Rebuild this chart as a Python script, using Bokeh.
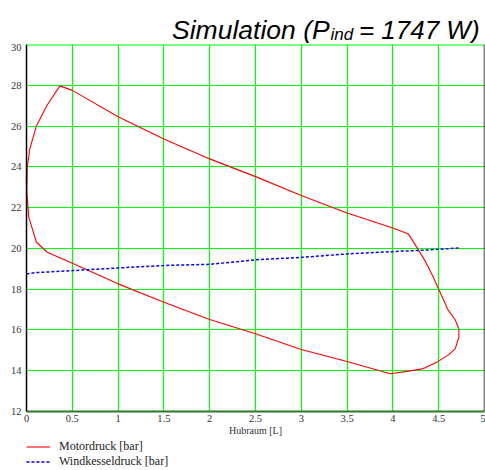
from bokeh.plotting import figure
from bokeh.layouts import column
from bokeh.models import (Range1d, FixedTicker, Legend, LegendItem, Span)
from bokeh.core.properties import value
from bokeh.embed import file_html
from bokeh.resources import INLINE

# Motordruck loop (Hubraum [L], Druck [bar])
motor_x = [0.364, 0.5, 1.0, 1.5, 2.0, 2.5, 3.0, 3.5, 4.0, 4.17,
           4.35, 4.44, 4.6, 4.68, 4.72, 4.72, 4.68, 4.61, 4.48, 4.32, 4.17, 3.97,
           3.5, 3.0, 2.5, 2.0, 1.5, 1.0, 0.5, 0.37, 0.226, 0.109,
           0.025, 0.003, 0.008, 0.036, 0.109, 0.226, 0.364]
motor_y = [27.97, 27.75, 26.46, 25.37, 24.39, 23.52, 22.59, 21.74, 21.0, 20.71,
           19.4, 18.6, 17.0, 16.5, 16.05, 15.64, 15.07, 14.79, 14.42, 14.09, 13.98, 13.85,
           14.45, 15.04, 15.81, 16.51, 17.36, 18.26, 19.27, 19.53, 19.81, 20.30,
           21.52, 22.83, 23.98, 24.88, 26.02, 27.03, 27.97]

# Windkesseldruck
wind_x = [0.0, 0.1, 0.5, 1.0, 1.5, 2.0, 2.5, 3.0, 3.5, 4.0, 4.41, 4.72]
wind_y = [18.75, 18.81, 18.91, 19.04, 19.16, 19.22, 19.44, 19.56, 19.73, 19.84, 19.93, 20.02]

x_ticks = [0, 0.5, 1, 1.5, 2, 2.5, 3, 3.5, 4, 4.5, 5]
x_tick_labels = ["0", "0.5", "1", "1.5", "2", "2.5", "3", "3.5", "4", "4.5", "5"]
y_ticks = [12, 14, 16, 18, 20, 22, 24, 26, 28, 30]
y_tick_labels = [str(v) for v in y_ticks]

title_parts = ["Simulation (P", "ind", "= 1747 W)"]
x_label = "Hubraum [L]"
legend_labels = ["Motordruck [bar]", "Windkesseldruck [bar]"]

SERIF = "Liberation Serif"
SANS = "Liberation Sans"
GRID = "#00ff00"
RED = "#ff0000"
BLUE = "#0000ff"
W = 485

# ---- title strip (pixel coordinates) ----
t = figure(width=W, height=43, output_backend="svg", toolbar_location=None,
           x_range=Range1d(0, W), y_range=Range1d(43, 0),
           x_axis_type=None, y_axis_type=None, min_border=0)
t.outline_line_color = None
t.grid.visible = False
tstyle = dict(text_font=value(SANS), text_font_style="italic",
              text_baseline="alphabetic", text_color="black")
t.text(x=[321], y=[29], text=[title_parts[0]], text_font_size="26.5px",
       text_align="right", **tstyle)
t.text(x=[322], y=[33.5], text=[title_parts[1]], text_font_size="17px",
       text_align="left", **tstyle)
t.text(x=[352], y=[29], text=[title_parts[2]], text_font_size="26px",
       text_align="left", **tstyle)

# ---- main plot ----
p = figure(width=W, height=395, output_backend="svg", toolbar_location=None,
           x_range=Range1d(0, 5), y_range=Range1d(12, 30),
           min_border_left=26, min_border_right=1, min_border_top=1, min_border_bottom=27)
p.outline_line_color = None
p.background_fill_color = "white"
p.border_fill_color = "white"

p.xaxis.ticker = FixedTicker(ticks=x_ticks)
p.yaxis.ticker = FixedTicker(ticks=y_ticks)
p.xaxis.major_label_overrides = {t_: l for t_, l in zip(x_ticks, x_tick_labels)}
p.yaxis.major_label_overrides = {t_: l for t_, l in zip(y_ticks, y_tick_labels)}
for ax in (p.xaxis[0], p.yaxis[0]):
    ax.major_tick_line_color = None
    ax.minor_tick_line_color = None
    ax.major_tick_out = 0
    ax.major_tick_in = 0
    ax.major_label_text_font = SERIF
    ax.major_label_text_font_size = "10.5px"
    ax.major_label_text_color = "#333333"
p.yaxis.major_label_standoff = 5
p.xaxis.major_label_standoff = 3
p.yaxis.axis_line_color = "black"
p.yaxis.axis_line_width = 1.5
p.xaxis.axis_line_color = "#2a7a2a"
p.xaxis.axis_line_width = 2
p.xaxis.axis_label = x_label
p.xaxis.axis_label_text_font = SERIF
p.xaxis.axis_label_text_font_style = "normal"
p.xaxis.axis_label_text_font_size = "10px"
p.xaxis.axis_label_text_color = "#333333"
p.xaxis.axis_label_standoff = 0

p.xgrid.grid_line_color = GRID
p.ygrid.grid_line_color = GRID
p.xgrid.grid_line_width = 1.2
p.ygrid.grid_line_width = 1.2

p.add_layout(Span(location=30, dimension="width", line_color=GRID, line_width=2))
p.add_layout(Span(location=5, dimension="height", line_color="black", line_width=1.5))

p.line(motor_x, motor_y, line_color=RED, line_width=1.1)
p.line(wind_x, wind_y, line_color=BLUE, line_width=1.5, line_dash="3 2")

# ---- legend strip (series kept out of its view; only the legend shows) ----
lg = figure(width=W, height=32, output_backend="svg", toolbar_location=None,
            x_range=Range1d(-20, -19), y_range=Range1d(0, 1),
            x_axis_type=None, y_axis_type=None, min_border=0)
lg.outline_line_color = None
lg.grid.visible = False
k1 = lg.line(motor_x, motor_y, line_color=RED, line_width=1.1)
k2 = lg.line(wind_x, wind_y, line_color=BLUE, line_width=1.5, line_dash="3 2")
legend = Legend(items=[LegendItem(label=legend_labels[0], renderers=[k1]),
                       LegendItem(label=legend_labels[1], renderers=[k2])],
                location=(0, 1), orientation="vertical",
                padding=0, margin=0, spacing=0,
                glyph_width=24, glyph_height=15, label_height=15, label_standoff=9,
                label_text_font=SERIF, label_text_font_size="12px",
                label_text_color="#222222", border_line_color=None,
                background_fill_alpha=0)
lg.add_layout(legend, "center")

layout = column(t, p, lg, spacing=0)
open("out.html", "w").write(file_html(layout, INLINE))
